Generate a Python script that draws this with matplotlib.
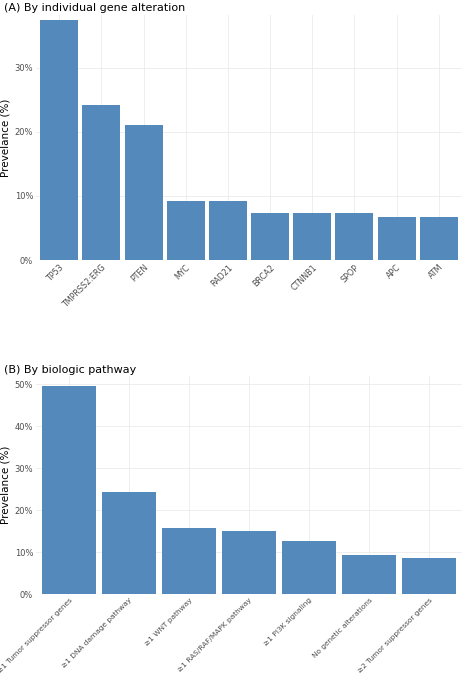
import matplotlib
matplotlib.use("Agg")
import matplotlib.pyplot as plt
from matplotlib.ticker import FuncFormatter

genes = ['TP53', 'TMPRSS2:ERG', 'PTEN', 'MYC', 'RAD21', 'BRCA2', 'CTNNB1', 'SPOP', 'APC', 'ATM']
gene_prev = [37.4, 24.2, 21.0, 9.2, 9.2, 7.3, 7.3, 7.3, 6.7, 6.7]

pathways = ['≥1 Tumor suppressor genes', '≥1 DNA damage pathway', '≥1 WNT pathway',
            '≥1 RAS/RAF/MAPK pathway', '≥1 PI3K signaling', 'No genetic alterations',
            '≥2 Tumor suppressor genes']
path_prev = [49.7, 24.3, 15.8, 15.1, 12.6, 9.3, 8.7]

BAR = '#5389BB'
fig = plt.figure(figsize=(4.69, 6.85), dpi=100)

def style(ax, ymax, step, xsize):
    ax.set_yticks(range(0, ymax + 1, step))
    ax.yaxis.set_major_formatter(FuncFormatter(lambda v, p: f'{int(v)}%'))
    ax.grid(True, color='#ebebeb', linewidth=0.6)
    ax.set_axisbelow(True)
    for s in ax.spines.values():
        s.set_visible(False)
    ax.tick_params(length=0, labelsize=6, colors='#4d4d4d', pad=2)
    ax.tick_params(axis='x', labelsize=xsize)
    ax.set_ylabel('Prevelance (%)', fontsize=7.5, labelpad=3)
    for lbl in ax.get_xticklabels():
        lbl.set_rotation(45)
        lbl.set_ha('right')
        lbl.set_rotation_mode('anchor')

ax1 = fig.add_axes([36/469, 1 - 260/685, 426/469, 245/685])
ax1.bar(genes, gene_prev, color=BAR, width=0.9)
ax1.set_xlim(-0.55, len(genes) - 0.45)
style(ax1, 30, 10, 5.8)
ax1.set_ylim(0, 38.2)
fig.text(4/469, 1 - 8/685, '(A) By individual gene alteration', fontsize=8, va='center')

ax2 = fig.add_axes([36/469, 1 - 594/685, 426/469, 218/685])
ax2.bar(pathways, path_prev, color=BAR, width=0.9)
ax2.set_xlim(-0.55, len(pathways) - 0.45)
style(ax2, 50, 10, 5.3)
ax2.set_ylim(0, 52)
fig.text(4/469, 1 - 370/685, '(B) By biologic pathway', fontsize=8, va='center')

fig.savefig('out.png', dpi=100)
